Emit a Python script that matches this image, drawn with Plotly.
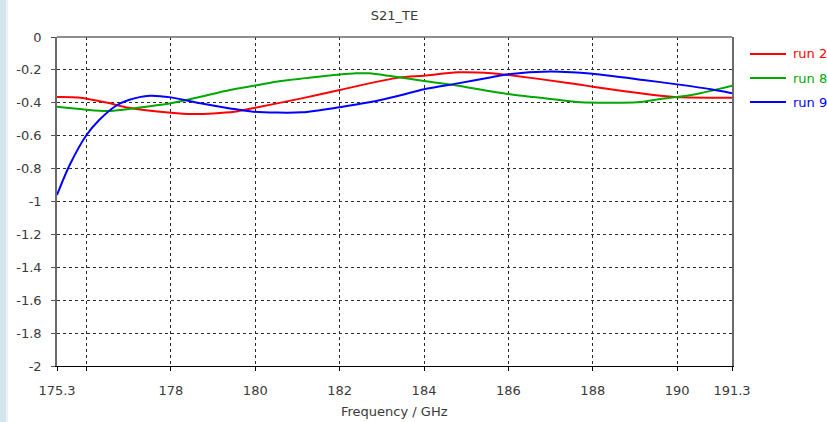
import plotly.graph_objects as go

# S21 (TE) transmission curves for three simulation runs
freq_run2 = [175.3, 175.8, 176.5, 177.0, 178.0, 178.5, 179.0, 179.5, 180.0, 181.1,
             182.0, 183.4, 184.0, 184.8, 185.6, 186.0, 187.5, 188.0, 188.8, 189.6,
             190.1, 191.3]
s21_run2 = [-0.365, -0.368, -0.40, -0.43, -0.46, -0.468, -0.465, -0.455, -0.43, -0.373,
            -0.322, -0.247, -0.235, -0.215, -0.22, -0.231, -0.282, -0.302, -0.332, -0.357,
            -0.367, -0.37]

freq_run8 = [175.3, 176.5, 177.1, 178.0, 178.7, 179.4, 180.0, 180.6, 181.2, 182.0,
             182.4, 182.7, 183.2, 184.0, 184.7, 186.0, 187.2, 187.7, 188.4, 189.05,
             189.6, 190.4, 191.3]
s21_run8 = [-0.424, -0.45, -0.434, -0.403, -0.363, -0.322, -0.295, -0.267, -0.25, -0.228,
            -0.221, -0.221, -0.237, -0.267, -0.292, -0.347, -0.383, -0.397, -0.40, -0.397,
            -0.377, -0.349, -0.296]

freq_run9 = [175.3, 175.6, 176.0, 176.3, 176.7, 177.0, 177.5, 178.0, 178.7, 179.4,
             179.95, 181.1, 182.0, 182.7, 183.4, 184.0, 184.8, 185.6, 186.0, 187.0,
             187.5, 188.4, 189.2, 190.0, 190.8, 191.3]
s21_run9 = [-0.96, -0.778, -0.596, -0.505, -0.418, -0.383, -0.357, -0.367, -0.403, -0.434,
            -0.454, -0.458, -0.427, -0.397, -0.357, -0.318, -0.282, -0.245, -0.227, -0.21,
            -0.215, -0.235, -0.261, -0.288, -0.318, -0.342]

x_ticks = [175.3, 176, 178, 180, 182, 184, 186, 188, 190, 191.3]
x_labels = ["175.3", "", "178", "180", "182", "184", "186", "188", "190", "191.3"]
y_ticks = [0, -0.2, -0.4, -0.6, -0.8, -1, -1.2, -1.4, -1.6, -1.8, -2]
y_labels = ["0", "-0.2", "-0.4", "-0.6", "-0.8", "-1", "-1.2", "-1.4", "-1.6", "-1.8", "-2"]

series = [
    ("run 2", freq_run2, s21_run2, "#ff0000"),
    ("run 8", freq_run8, s21_run8, "#00a800"),
    ("run 9", freq_run9, s21_run9, "#0000ff"),
]

FONT = "DejaVu Sans"
FS = 13
TEXT = "#3a3a3a"

# plot-area geometry in pixels (used to place the key and frame decorations)
W, H = 827, 422
ML, MR, MT, MB = 57, 95, 37, 56
PW, PH = W - ML - MR, H - MT - MB


def px_to_paper_x(px):
    return (px - ML) / PW


def px_to_paper_y(py):
    return (H - MB - py) / PH


fig = go.Figure()
for name, fx, fy, col in series:
    fig.add_trace(go.Scatter(
        x=fx, y=fy, mode="lines", name=name, showlegend=False,
        line=dict(color=col, width=2, shape="spline", smoothing=0.8),
    ))

grid = dict(showgrid=True, gridcolor="#2a2a2a", gridwidth=1, griddash="3px,3px")

fig.update_layout(
    width=W, height=H,
    margin=dict(l=ML, r=MR, t=MT, b=MB, autoexpand=False),
    paper_bgcolor="white", plot_bgcolor="white",
    font=dict(family=FONT, size=FS, color=TEXT),
    title=dict(text="S21_TE", x=0.5, xref="paper", y=1 - 15 / H, yanchor="middle",
               font=dict(family=FONT, size=FS, color=TEXT)),
    xaxis=dict(range=[175.3, 191.3], tickmode="array", tickvals=x_ticks, ticktext=x_labels,
               ticks="outside", ticklen=4, tickcolor="#000", showline=True, linecolor="#000",
               linewidth=1, zeroline=False, ticklabelstandoff=8, automargin=False,
               tickfont=dict(family=FONT, size=FS, color=TEXT), **grid),
    yaxis=dict(range=[-2, 0], tickmode="array", tickvals=y_ticks, ticktext=y_labels,
               ticks="outside", ticklen=4, tickcolor="#555", showline=True, linecolor="#6a6a6a",
               linewidth=1.5, mirror=True, zeroline=False, ticklabelstandoff=7, automargin=False,
               tickfont=dict(family=FONT, size=FS, color=TEXT), **grid),
    showlegend=False,
)

# top frame line of the plot area
fig.add_shape(type="line", xref="paper", yref="paper", x0=0, x1=1, y0=1, y1=1,
              line=dict(color="#6a6a6a", width=1.5))

# pale window-edge strip down the left side
fig.add_shape(type="rect", xref="paper", yref="paper", x0=px_to_paper_x(0), x1=px_to_paper_x(6),
              y0=px_to_paper_y(H), y1=px_to_paper_y(0), fillcolor="#d4e6ed",
              line=dict(width=0), layer="below")
fig.add_shape(type="rect", xref="paper", yref="paper", x0=px_to_paper_x(6), x1=px_to_paper_x(8),
              y0=px_to_paper_y(H), y1=px_to_paper_y(0), fillcolor="#eaf3f6",
              line=dict(width=0), layer="below")

# key to the right of the plot: coloured line sample + coloured label
key_rows = [54, 78, 102]
for (name, _, _, col), py in zip(series, key_rows):
    yk = px_to_paper_y(py)
    fig.add_shape(type="line", xref="paper", yref="paper",
                  x0=px_to_paper_x(750), x1=px_to_paper_x(786), y0=yk, y1=yk,
                  line=dict(color=col, width=2))
    fig.add_annotation(text=name, xref="paper", yref="paper", x=px_to_paper_x(791), y=yk,
                       xanchor="left", yanchor="middle", showarrow=False,
                       font=dict(family=FONT, size=FS, color=col))

fig.add_annotation(text="Frequency / GHz", xref="paper", yref="paper", x=0.5,
                   y=px_to_paper_y(411), yanchor="middle", showarrow=False,
                   font=dict(family=FONT, size=FS, color=TEXT))

fig.write_html("out.html")
